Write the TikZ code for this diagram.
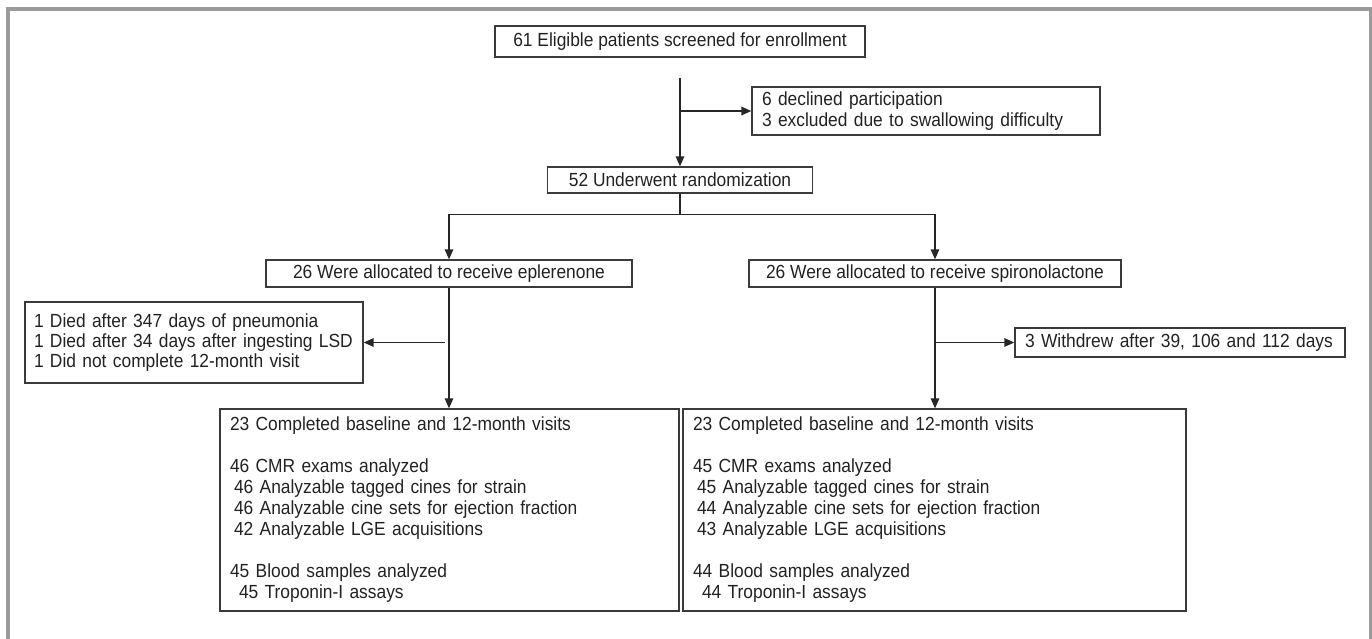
\documentclass[tikz,border=0pt]{standalone}
\usepackage{fontspec}
\setmainfont{Liberation Sans}[FakeStretch=0.915]
\usetikzlibrary{arrows.meta}
\usetikzlibrary{positioning}
\definecolor{boxline}{HTML}{3A3A3A}
\definecolor{boxtext}{HTML}{222222}
\definecolor{framegray}{HTML}{9B9B9B}
\tikzset{
    flownode/.style = {rectangle, draw=boxline, line width=1.3pt, inner sep=0pt, align=center, text=boxtext, font=\fontsize{19}{21}\selectfont},
    flownodel/.style = {flownode, align=left, inner xsep=10pt},
    edgen/.style = {-, line width=1.4pt, black!85},
    edgea/.style = {-{Triangle[length=10pt,width=8.5pt]}, line width=1.4pt, black!85},
    frameg/.style = {-, line width=4pt, framegray}
}

\begin{document}
\begin{tikzpicture}[x=1pt,y=-1pt]
\useasboundingbox (0,0) rectangle (1372,639);
\draw[frameg] (8,639) -- (8,9) -- (1372,9);
\draw[frameg, line width=3pt] (1370.5,9) -- (1370.5,639);
%
\node[flownode, minimum width=370pt, minimum height=31pt] at (680,41.5) (b1) {61 Eligible patients screened for enrollment};
\node[flownodel, text width=328pt, minimum height=48pt] at (926,111) (excl) {6 declined participation\\3 excluded due to swallowing difficulty};
\node[flownode, minimum width=265pt, minimum height=26pt] at (680,180) (rand) {52 Underwent randomization};
\node[flownode, minimum width=366pt, minimum height=27pt] at (449,273.5) (epl) {26 Were allocated to receive eplerenone};
\node[flownode, minimum width=372pt, minimum height=27pt] at (935,273.5) (spi) {26 Were allocated to receive spironolactone};
\node[flownodel, text width=320pt, inner xsep=9pt, minimum height=81pt, font=\fontsize{19}{20}\selectfont] at (194,342.5) (lost) {1 Died after 347 days of pneumonia\\1 Died after 34 days after ingesting LSD\\1 Did not complete 12-month visit};
\node[flownodel, text width=310pt, minimum height=29pt] at (1180,342.5) (wd) {3 Withdrew after 39, 106 and 112 days};
\node[flownodel, text width=439pt, minimum height=202pt] at (449.5,510) (ana) {23 Completed baseline and 12-month visits\\[21pt]
46 CMR exams analyzed\\
\hspace*{4pt}46 Analyzable tagged cines for strain\\
\hspace*{4pt}46 Analyzable cine sets for ejection fraction\\
\hspace*{4pt}42 Analyzable LGE acquisitions\\[21pt]
45 Blood samples analyzed\\
\hspace*{9pt}45 Troponin-I assays};
\node[flownodel, text width=483pt, minimum height=202pt] at (934.5,510) (anb) {23 Completed baseline and 12-month visits\\[21pt]
45 CMR exams analyzed\\
\hspace*{4pt}45 Analyzable tagged cines for strain\\
\hspace*{4pt}44 Analyzable cine sets for ejection fraction\\
\hspace*{4pt}43 Analyzable LGE acquisitions\\[21pt]
44 Blood samples analyzed\\
\hspace*{9pt}44 Troponin-I assays};
%
\coordinate (c1) at (680,78);
\coordinate (c2) at (680,111);
\coordinate (c4) at (445,342.5);
\coordinate (c5) at (935,342.5);
\draw[edgea] (c1) -- (rand.north);
\draw[edgea] (c2) -- (excl.west);
\draw[edgen] (rand.south) -- ++(0,21) coordinate (c3);
\draw[edgea] (c3) -| (epl.north);
\draw[edgea] (c3) -| (spi.north);
\draw[edgea] (epl.south) -- (epl.south |- ana.north);
\draw[edgea] (spi.south) -- (spi.south |- anb.north);
\draw[edgea] (c4) -- (lost.east);
\draw[edgea] (c5) -- (wd.west);

\end{tikzpicture}
\end{document}
